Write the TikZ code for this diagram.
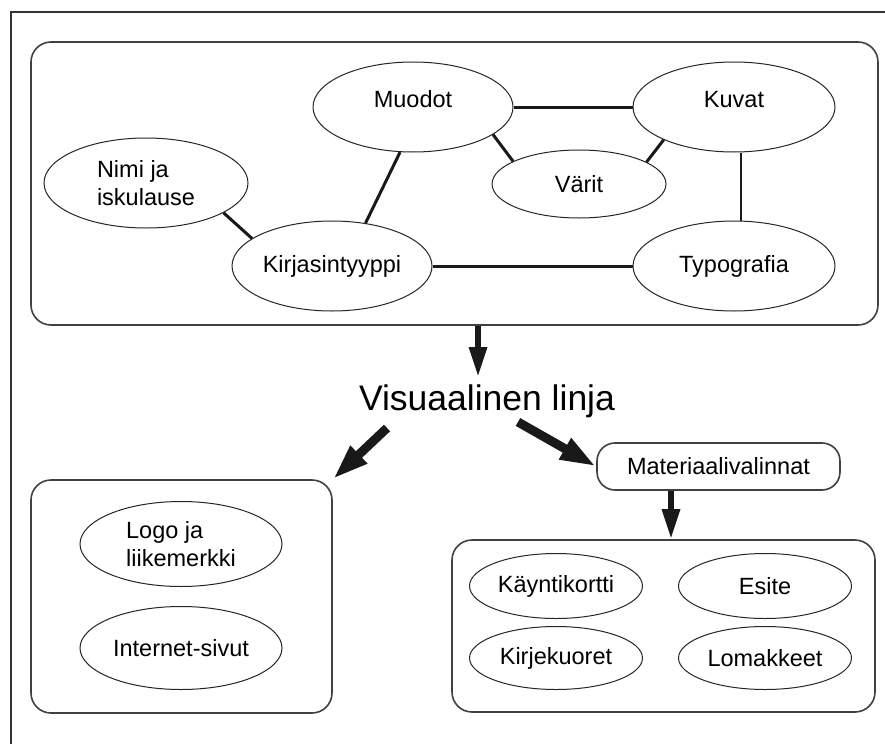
\documentclass[tikz,border=0pt]{standalone}
\usepackage{fontspec}
\setmainfont{Liberation Sans}
\usetikzlibrary{shapes.geometric,arrows.meta}
\newcommand{\fsz}{\fontsize{23.5}{28}\selectfont}
\newcommand{\fbig}{\fontsize{35.5}{40}\selectfont}
\begin{document}
\begin{tikzpicture}[x=1pt,y=-1pt,
  el/.style={draw=black!85,line width=1pt,ellipse,inner sep=0pt,font=\fsz},
  grp/.style={draw=black!75,line width=1.6pt,rounded corners=20pt,inner sep=0pt},
  link/.style={line width=3pt,black!90},
  thinlink/.style={line width=2pt,black!90},
  raised/.style={text depth=16pt},
  bigarrow/.style={line width=9pt,black!90,-{Triangle[width=22pt,length=36pt]}},
  smallarrow/.style={line width=6pt,black!90,-{Triangle[width=17pt,length=30pt]}}]
\useasboundingbox (0,0) rectangle (885,744);
\fill[white] (0,0) rectangle (885,744);
% outer frame (clipped at right and bottom)
\draw[black!80,line width=2pt] (885,12) -- (11,12) -- (11,744);

% top group
\node[grp,minimum width=847pt,minimum height=283pt] (topbox) at (454.5,183.5) {};
\node[el,minimum width=204pt,minimum height=90pt,align=left] (nimi) at (146,183) {Nimi ja\\iskulause};
\node[el,raised,minimum width=200pt,minimum height=90pt] (muodot) at (413,107) {Muodot};
\node[el,raised,minimum width=202pt,minimum height=90pt] (kuvat) at (734,107) {Kuvat};
\node[el,minimum width=174pt,minimum height=68pt] (varit) at (579,184) {Värit};
\node[el,minimum width=200pt,minimum height=90pt] (kirj) at (332,266) {Kirjasintyyppi};
\node[el,minimum width=202pt,minimum height=90pt] (typo) at (734,266) {Typografia};

\draw[link] (nimi.339) -- (kirj.161);
\draw[link] (muodot.254) -- (kirj.52);
\draw[link] (muodot.east) -- (kuvat.west);
\draw[link] (muodot.341) -- (varit.161);
\draw[link] (kuvat.205) -- (varit.18);
\draw[thinlink] ([xshift=7pt]kuvat.south) -- ([xshift=7pt]typo.north);
\draw[link] (kirj.east) -- (typo.west);

% middle label
\node[font=\fbig,anchor=base,inner sep=0pt] (vis) at (487,410) {Visuaalinen linja};

% left group
\node[grp,minimum width=301pt,minimum height=233pt] (leftbox) at (181.5,596.5) {};
\node[el,minimum width=202pt,minimum height=85pt,align=left] (logo) at (181,544) {Logo ja\\liikemerkki};
\node[el,minimum width=202pt,minimum height=83pt] (inet) at (181,648) {Internet-sivut};

% right part
\node[draw=black!75,line width=1.6pt,rounded corners=18pt,minimum width=243pt,minimum height=47pt,inner sep=0pt,font=\fsz] (mat) at (718.5,466.5) {Materiaalivalinnat};
\node[grp,minimum width=423pt,minimum height=172pt] (rbox) at (663.5,626) {};
\node[el,minimum width=173pt,minimum height=65pt] (kaynti) at (556,586) {Käyntikortti};
\node[el,minimum width=173pt,minimum height=65pt] (esite) at (765,586) {Esite};
\node[el,minimum width=173pt,minimum height=63pt] (kirjek) at (556,658) {Kirjekuoret};
\node[el,minimum width=173pt,minimum height=63pt] (lomak) at (765,658) {Lomakkeet};

% arrows
\coordinate (a1) at (478,377);
\draw[smallarrow] (topbox.south -| a1) -- (a1);
\coordinate (a2) at (387,428);
\draw[bigarrow] (a2) -- (leftbox.north east);
\coordinate (a3) at (518,422);
\draw[bigarrow] (a3) -- (mat.west);
\coordinate (a4) at (671,0);
\draw[smallarrow] (mat.south -| a4) -- (rbox.north -| a4);
\end{tikzpicture}
\end{document}
